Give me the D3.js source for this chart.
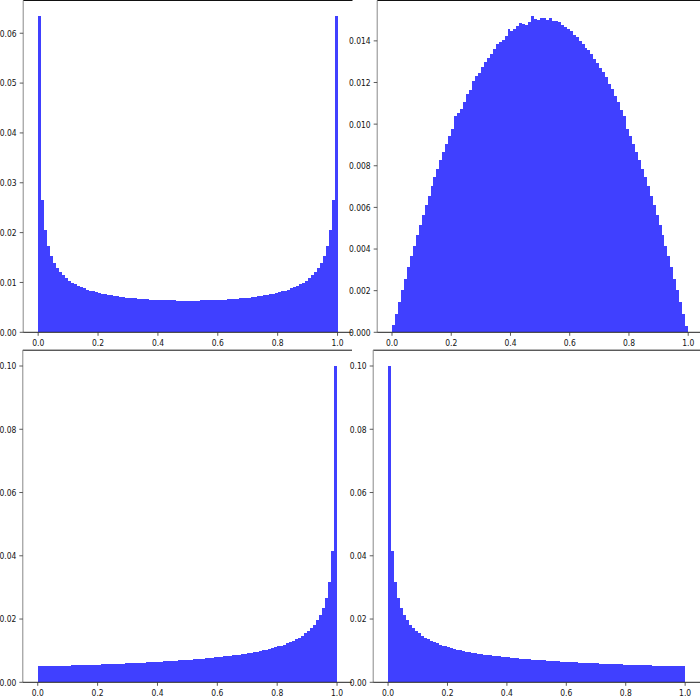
<!DOCTYPE html>
<html><head><meta charset="utf-8">
<script src="https://cdn.jsdelivr.net/npm/d3@7"></script>
<style>body{margin:0;background:#fff}svg{display:block}</style>
</head><body><svg id="c" width="700" height="700"></svg>
<script>
// bin edges 0.00 .. 1.00 (100 bins)
const binEdges = d3.range(0, 101).map(i => i / 100);
const xTicks = [0, 0.2, 0.4, 0.6, 0.8, 1.0];
const yTicksTL = [0, 0.01, 0.02, 0.03, 0.04, 0.05, 0.06];
const yTicksTR = [0, 0.002, 0.004, 0.006, 0.008, 0.010, 0.012, 0.014];
const yTicksBottom = [0, 0.02, 0.04, 0.06, 0.08, 0.10];

// top-left: U-shaped histogram
const valuesTL = [
0.06340,0.02657,0.02049,0.01736,0.01538,0.01398,0.01290,0.01206,0.01147,0.01086,
0.01038,0.00998,0.00963,0.00932,0.00904,0.00880,0.00858,0.00838,0.00820,0.00803,
0.00789,0.00775,0.00762,0.00751,0.00745,0.00730,0.00721,0.00713,0.00705,0.00698,
0.00691,0.00685,0.00680,0.00674,0.00670,0.00665,0.00661,0.00658,0.00654,0.00651,
0.00648,0.00646,0.00644,0.00642,0.00641,0.00639,0.00638,0.00637,0.00637,0.00637,
0.00637,0.00637,0.00637,0.00638,0.00639,0.00641,0.00642,0.00644,0.00646,0.00648,
0.00651,0.00654,0.00658,0.00661,0.00665,0.00670,0.00674,0.00680,0.00685,0.00691,
0.00698,0.00705,0.00713,0.00721,0.00730,0.00740,0.00751,0.00762,0.00775,0.00789,
0.00803,0.00820,0.00838,0.00858,0.00880,0.00904,0.00932,0.00963,0.00998,0.01038,
0.01086,0.01147,0.01206,0.01290,0.01398,0.01538,0.01736,0.02049,0.02657,0.06340
];
// top-right: dome-shaped histogram
const valuesTR = [
0.00035,0.00089,0.00146,0.00203,0.00258,0.00312,0.00365,0.00416,0.00467,0.00516,
0.00564,0.00611,0.00656,0.00701,0.00744,0.00786,0.00827,0.00866,0.00905,0.00942,
0.00978,0.01040,0.01052,0.01075,0.01108,0.01143,0.01163,0.01205,0.01230,0.01245,
0.01275,0.01300,0.01318,0.01335,0.01360,0.01385,0.01395,0.01405,0.01425,0.01455,
0.01448,0.01458,0.01470,0.01485,0.01480,0.01478,0.01490,0.01518,0.01505,0.01500,
0.01508,0.01512,0.01502,0.01508,0.01495,0.01497,0.01490,0.01478,0.01468,0.01455,
0.01445,0.01428,0.01420,0.01400,0.01385,0.01365,0.01355,0.01335,0.01315,0.01295,
0.01270,0.01250,0.01225,0.01195,0.01170,0.01135,0.01108,0.01070,0.01040,0.00978,
0.00942,0.00905,0.00866,0.00827,0.00786,0.00744,0.00701,0.00656,0.00611,0.00564,
0.00516,0.00467,0.00416,0.00365,0.00312,0.00258,0.00203,0.00146,0.00089,0.00030
];
// bottom-left: rising toward 1
const valuesBL = [
0.00501,0.00504,0.00506,0.00509,0.00512,0.00514,0.00517,0.00520,0.00523,0.00526,
0.00529,0.00532,0.00535,0.00538,0.00541,0.00544,0.00547,0.00551,0.00554,0.00557,
0.00561,0.00564,0.00568,0.00572,0.00575,0.00579,0.00583,0.00587,0.00591,0.00596,
0.00600,0.00604,0.00609,0.00613,0.00618,0.00623,0.00628,0.00633,0.00638,0.00643,
0.00648,0.00654,0.00659,0.00665,0.00671,0.00677,0.00684,0.00690,0.00697,0.00704,
0.00711,0.00718,0.00726,0.00733,0.00741,0.00750,0.00758,0.00767,0.00776,0.00786,
0.00796,0.00806,0.00817,0.00828,0.00839,0.00851,0.00864,0.00877,0.00891,0.00905,
0.00921,0.00937,0.00954,0.00971,0.00990,0.01010,0.01032,0.01054,0.01078,0.01104,
0.01132,0.01163,0.01195,0.01231,0.01270,0.01313,0.01361,0.01415,0.01475,0.01544,
0.01623,0.01716,0.01827,0.01963,0.02134,0.02361,0.02679,0.03178,0.04142,0.10000
];
// bottom-right: falling from 0
const valuesBR = [
0.10000,0.04142,0.03178,0.02679,0.02361,0.02134,0.01963,0.01827,0.01716,0.01623,
0.01544,0.01475,0.01415,0.01361,0.01313,0.01270,0.01231,0.01195,0.01163,0.01132,
0.01104,0.01078,0.01054,0.01032,0.01010,0.00990,0.00971,0.00954,0.00937,0.00921,
0.00905,0.00891,0.00877,0.00864,0.00851,0.00839,0.00828,0.00817,0.00806,0.00796,
0.00786,0.00776,0.00767,0.00758,0.00750,0.00741,0.00733,0.00726,0.00718,0.00711,
0.00704,0.00697,0.00690,0.00684,0.00677,0.00671,0.00665,0.00659,0.00654,0.00648,
0.00643,0.00638,0.00633,0.00628,0.00623,0.00618,0.00613,0.00609,0.00604,0.00600,
0.00596,0.00591,0.00587,0.00583,0.00579,0.00575,0.00572,0.00568,0.00564,0.00561,
0.00557,0.00554,0.00551,0.00547,0.00544,0.00541,0.00538,0.00535,0.00532,0.00529,
0.00526,0.00523,0.00520,0.00517,0.00514,0.00512,0.00509,0.00506,0.00504,0.00501
];

const panels = [
  {values: valuesTL, yTicks: yTicksTL, fmt: d3.format(".2f"), left: 23.2, right: 352.5, top: 0.5, bottom: 332.3},
  {values: valuesTR, yTicks: yTicksTR, fmt: d3.format(".3f"), left: 377.2, right: 703, top: 0.5, bottom: 332.3},
  {values: valuesBL, yTicks: yTicksBottom, fmt: d3.format(".2f"), left: 22.8, right: 352, top: 350.2, bottom: 682.3},
  {values: valuesBR, yTicks: yTicksBottom, fmt: d3.format(".2f"), left: 373.2, right: 700, top: 350.2, bottom: 682.3}
];

const svg = d3.select("#c");
const FONT = "'DejaVu Sans', sans-serif";
const SX = 0.8; // horizontal squeeze of tick labels

panels.forEach(p => {
  const x = d3.scaleLinear().domain([-0.05, 1.05]).range([p.left, p.right]);
  const y = d3.scaleLinear().domain([0, d3.max(p.values) * 1.05]).range([p.bottom, p.top]);
  const g = svg.append("g");

  g.selectAll("rect.bar").data(p.values).join("rect")
    .attr("class", "bar")
    .attr("x", (d, i) => x(binEdges[i]))
    .attr("width", (d, i) => x(binEdges[i + 1]) - x(binEdges[i]))
    .attr("y", d => y(d))
    .attr("height", d => y(0) - y(d))
    .attr("fill", "#4040ff")
    .attr("shape-rendering", "crispEdges");

  // spines
  g.append("line").attr("x1", p.left).attr("x2", p.right).attr("y1", p.top).attr("y2", p.top)
    .attr("stroke", "#111").attr("stroke-width", 1);
  g.append("line").attr("x1", p.left).attr("x2", p.left).attr("y1", p.top).attr("y2", p.bottom)
    .attr("stroke", "#888").attr("stroke-width", 1);
  g.append("line").attr("x1", p.left).attr("x2", p.right).attr("y1", p.bottom).attr("y2", p.bottom)
    .attr("stroke", "#222").attr("stroke-width", 1);

  // x ticks
  const xt = g.selectAll("g.xt").data(xTicks).join("g").attr("class", "xt")
    .attr("transform", d => `translate(${x(d)},${p.bottom})`);
  xt.append("line").attr("y2", 3.5).attr("stroke", "#333").attr("stroke-width", 0.8);
  xt.append("text").attr("transform", `translate(0,14) scale(${SX},1)`)
    .attr("text-anchor", "middle").attr("font-family", FONT).attr("font-size", 9.5)
    .attr("fill", "#111").text(d => d.toFixed(1));

  // y ticks
  const yt = g.selectAll("g.yt").data(p.yTicks).join("g").attr("class", "yt")
    .attr("transform", d => `translate(${p.left},${y(d)})`);
  yt.append("line").attr("x2", -3.5).attr("stroke", "#333").attr("stroke-width", 0.8);
  yt.append("text").attr("transform", `translate(-6.5,3.4) scale(${SX},1)`)
    .attr("text-anchor", "end").attr("font-family", FONT).attr("font-size", 9.5)
    .attr("fill", "#111").text(d => p.fmt(d));
});
</script></body></html>
